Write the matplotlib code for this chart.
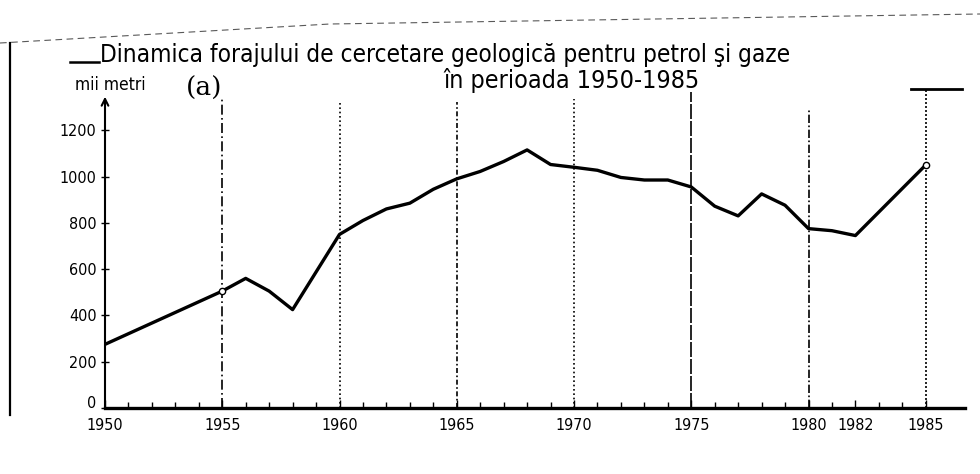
import matplotlib
matplotlib.use("Agg")
import matplotlib.pyplot as plt
from matplotlib.lines import Line2D
from matplotlib.transforms import ScaledTranslation

# ---- data ----
years = [1950, 1955, 1956, 1957, 1958, 1960, 1961, 1962, 1963, 1964, 1965,
         1966, 1967, 1968, 1969, 1970, 1971, 1972, 1973, 1974, 1975, 1976,
         1977, 1978, 1979, 1980, 1981, 1982, 1985]
values = [275, 505, 560, 505, 425, 750, 810, 860, 885, 945, 990,
          1022, 1065, 1115, 1052, 1040, 1027, 996, 985, 985, 955, 872,
          830, 925, 876, 775, 766, 745, 1050]
marked_years = [1955, 1985]
marked_values = [505, 1050]

xtick_years = [1950, 1955, 1960, 1965, 1970, 1975, 1980, 1982, 1985]
xtick_labels = ["1950", "1955", "1960", "1965", "1970", "1975", "1980", "1982", "1985"]
ytick_values = [0, 200, 400, 600, 800, 1000, 1200]
ytick_labels = ["0", "200", "400", "600", "800", "1000", "1200"]

guide_years = [1955, 1960, 1965, 1970, 1975, 1980, 1985]
guide_tops = [1343, 1326, 1322, 1335, 1365, 1292, 1378]
guide_styles = [(0, (6, 2, 1, 2)), (0, (1, 1.6)), (0, (3, 1.5, 1, 1.5)),
                (0, (1, 1.6)), (0, (9, 1.2)), (0, (5, 1.5, 1, 1.5)), (0, (1.2, 1.2))]

title_1 = "Dinamica forajului de cercetare geologică pentru petrol şi gaze"
title_2 = "în perioada 1950-1985"
unit_label = "mii metri"
panel_label = "(a)"

FONT = ["DejaVu Sans"]
STRETCH = "condensed"

W, H = 980, 474
fig = plt.figure(figsize=(W / 100, H / 100), dpi=100)
fig.patch.set_facecolor("white")

x0_px, x1_px = 105, 965
y0_px, ytop_px = 408, 99
px_per_year = 23.45
xmax = 1950 + (x1_px - x0_px) / px_per_year
ymax = 1335
ax = fig.add_axes([x0_px / W, (H - y0_px) / H, (x1_px - x0_px) / W, (y0_px - ytop_px) / H])
ax.set_xlim(1950, xmax)
ax.set_ylim(0, ymax)
ax.set_facecolor("none")

for s in ["top", "right", "left"]:
    ax.spines[s].set_visible(False)
ax.spines["bottom"].set_linewidth(2.4)
ax.spines["bottom"].set_color("black")

# y-axis with arrow
ax.annotate("", xy=(1950, ymax + 10), xytext=(1950, 0), xycoords="data",
            arrowprops=dict(arrowstyle="->", lw=1.5, color="black",
                            mutation_scale=12, shrinkA=0, shrinkB=0),
            annotation_clip=False)

# guide lines
for gx, gt, ls in zip(guide_years, guide_tops, guide_styles):
    ax.plot([gx, gx], [0, gt], color="black", lw=1.2, linestyle=ls, clip_on=False)
ax.plot([1984.35, 1986.55], [1378, 1378], color="black", lw=2.0, clip_on=False)

# data line
ax.plot(years, values, color="black", lw=2.4, solid_joinstyle="round", zorder=5)
ax.plot(marked_years, marked_values, linestyle="none", marker="o", ms=4.5,
        mfc="white", mec="black", mew=1.0, zorder=6)

# ticks
ax.set_xticks(xtick_years)
ax.set_xticklabels(xtick_labels, fontsize=11.5, family=FONT, stretch=STRETCH)
ax.set_xticks(list(range(1950, 1986)), minor=True)
ax.tick_params(axis="x", which="major", direction="in", length=6, width=1.0, pad=7)
ax.tick_params(axis="x", which="minor", direction="in", length=4, width=1.0)
ax.set_yticks(ytick_values)
ax.set_yticklabels(ytick_labels, fontsize=11.5, family=FONT, stretch=STRETCH)
ax.tick_params(axis="y", which="major", direction="inout", length=6, width=1.0, pad=3)
# lift the "0" label above the axis line as in the reference
zero_lbl = ax.get_yticklabels()[0]
zero_lbl.set_transform(zero_lbl.get_transform() + ScaledTranslation(0, 6 / 100, fig.dpi_scale_trans))

# texts
fig.text(100 / W, 1 - 62 / H, title_1, fontsize=17.5, family=FONT, stretch=STRETCH,
         ha="left", va="baseline", color="black")
fig.add_artist(Line2D([70 / W, 99 / W], [1 - 62 / H, 1 - 62 / H], color="black", lw=1.8))
fig.text(443 / W, 1 - 88 / H, title_2, fontsize=18, family=FONT, stretch=STRETCH,
         ha="left", va="baseline", color="black")
fig.text(75 / W, 1 - 90 / H, unit_label, fontsize=12.5, family=FONT, stretch=STRETCH,
         ha="left", va="baseline", color="black")
fig.text(186 / W, 1 - 88 / H, panel_label, fontsize=19, family=["DejaVu Serif"],
         ha="left", va="center", color="black")

# page border lines of the scanned sheet
fig.add_artist(Line2D([10 / W, 10 / W], [1 - 43 / H, 1 - 415 / H], color="black", lw=1.6))
fig.add_artist(Line2D([0, 330 / W, 980 / W], [1 - 43 / H, 1 - 24 / H, 1 - 14 / H],
                      color="0.35", lw=0.8, linestyle=(0, (6, 4))))

fig.savefig("out.png", dpi=100, facecolor="white")
